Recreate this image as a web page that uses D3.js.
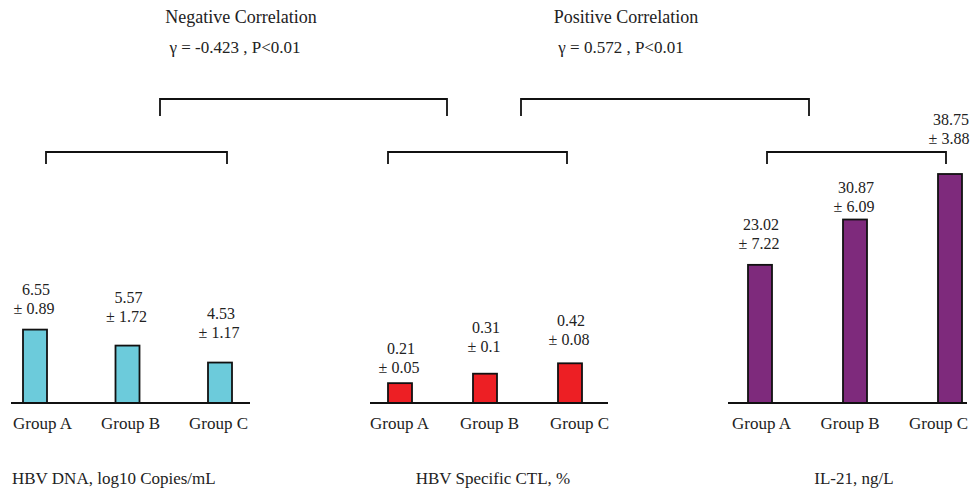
<!DOCTYPE html>
<html><head><meta charset="utf-8">
<script src="https://cdn.jsdelivr.net/npm/d3@7"></script>
<style>
html,body{margin:0;padding:0;background:#fff;}
svg{display:block;}
text{font-family:"Liberation Serif","Times New Roman",serif;fill:#222;}
</style></head>
<body><svg id="chart" width="972" height="494"></svg>
<script>
// ---------- data ----------
const groups = ["Group A", "Group B", "Group C"];
const panelTitles = ["HBV DNA, log10 Copies/mL", "HBV Specific CTL, %", "IL-21, ng/L"];
const hbvDnaMean = [6.55, 5.57, 4.53];
const hbvDnaSd   = ["0.89", "1.72", "1.17"];
const ctlMean    = [0.21, 0.31, 0.42];
const ctlSd      = ["0.05", "0.1", "0.08"];
const il21Mean   = [23.02, 30.87, 38.75];
const il21Sd     = ["7.22", "6.09", "3.88"];
const corrTitles = ["Negative Correlation", "Positive Correlation"];
const corrStats  = ["\u03B3 = -0.423 , P<0.01", "\u03B3 = 0.572 , P<0.01"];

// ---------- layout ----------
const baseY = 403;
const panels = [
  {title: panelTitles[0], means: hbvDnaMean, sds: hbvDnaSd, color: "#6ccbdb",
   axis: [11, 250], pts: [35, 220], lbl: [42, 218], lift: [35, 43, 44],
   yDom: [2.05, 6.55], yTop: 329.6, bracket: [46, 227], tx: 12, anchor: "start"},
  {title: panelTitles[1], means: ctlMean, sds: ctlSd, color: "#ed1f24",
   axis: [370, 608], pts: [400, 570], lbl: [399, 579], lift: [29, 41, 37],
   yDom: [0, 0.42], yTop: 363.3, bracket: [388, 567], tx: 493, anchor: "middle"},
  {title: panelTitles[2], means: il21Mean, sds: il21Sd, color: "#7e2a7c",
   axis: [728, 967], pts: [760, 950], lbl: [761, 938], lift: [35, 27, 49],
   yDom: [-0.9, 38.75], yTop: 174, bracket: [767, 946], tx: 854, anchor: "middle"}
];
const corr = [
  {title: corrTitles[0], stat: corrStats[0], tx: 241, sx: 235, bracket: [160, 447]},
  {title: corrTitles[1], stat: corrStats[1], tx: 626, sx: 621, bracket: [521, 809]}
];

const svg = d3.select("#chart");
const barW = 24;

panels.forEach(p => {
  const g = svg.append("g");
  const x = d3.scalePoint().domain(groups).range(p.pts);
  const xl = d3.scalePoint().domain(groups).range(p.lbl);
  const y = d3.scaleLinear().domain(p.yDom).range([baseY, p.yTop]);
  const data = groups.map((k, i) => ({k, v: p.means[i], sd: p.sds[i], lift: p.lift[i]}));

  // bars
  g.selectAll("rect").data(data).join("rect")
    .attr("x", d => x(d.k) - barW / 2)
    .attr("y", d => y(d.v))
    .attr("width", barW)
    .attr("height", d => baseY - y(d.v))
    .attr("fill", p.color)
    .attr("stroke", "#111")
    .attr("stroke-width", 1.8);

  // baseline
  g.append("line").attr("x1", p.axis[0]).attr("x2", p.axis[1])
    .attr("y1", baseY).attr("y2", baseY).attr("stroke", "#111").attr("stroke-width", 2);

  // group labels
  const ax = d3.axisBottom(xl).tickSize(0).tickPadding(12);
  const axG = g.append("g").attr("transform", `translate(0,${baseY + 2})`).call(ax);
  axG.select(".domain").remove();
  axG.selectAll("text").attr("font-size", 17).attr("fill", "#222")
     .style("font-family", "Liberation Serif");

  // value labels
  g.selectAll("text.v1").data(data).join("text").attr("class", "v1")
    .attr("x", d => x(d.k) + 1).attr("y", d => y(d.v) - d.lift)
    .attr("text-anchor", "middle").attr("font-size", 16).text(d => d.v);
  g.selectAll("text.v2").data(data).join("text").attr("class", "v2")
    .attr("x", d => x(d.k) - 1).attr("y", d => y(d.v) - d.lift + 19)
    .attr("text-anchor", "middle").attr("font-size", 16).text(d => "\u00B1 " + d.sd);

  // bracket
  g.append("path")
    .attr("d", `M${p.bracket[0]},164V152H${p.bracket[1]}V164`)
    .attr("fill", "none").attr("stroke", "#111").attr("stroke-width", 1.8);

  // panel title
  g.append("text").attr("x", p.tx).attr("y", 484).attr("text-anchor", p.anchor)
    .attr("font-size", 17).text(p.title);
});

corr.forEach(c => {
  svg.append("path")
    .attr("d", `M${c.bracket[0]},116V99H${c.bracket[1]}V116`)
    .attr("fill", "none").attr("stroke", "#111").attr("stroke-width", 1.8);
  svg.append("text").attr("x", c.tx).attr("y", 23).attr("text-anchor", "middle")
    .attr("font-size", 18).text(c.title);
  svg.append("text").attr("x", c.sx).attr("y", 53).attr("text-anchor", "middle")
    .attr("font-size", 17).text(c.stat);
});
</script></body></html>
